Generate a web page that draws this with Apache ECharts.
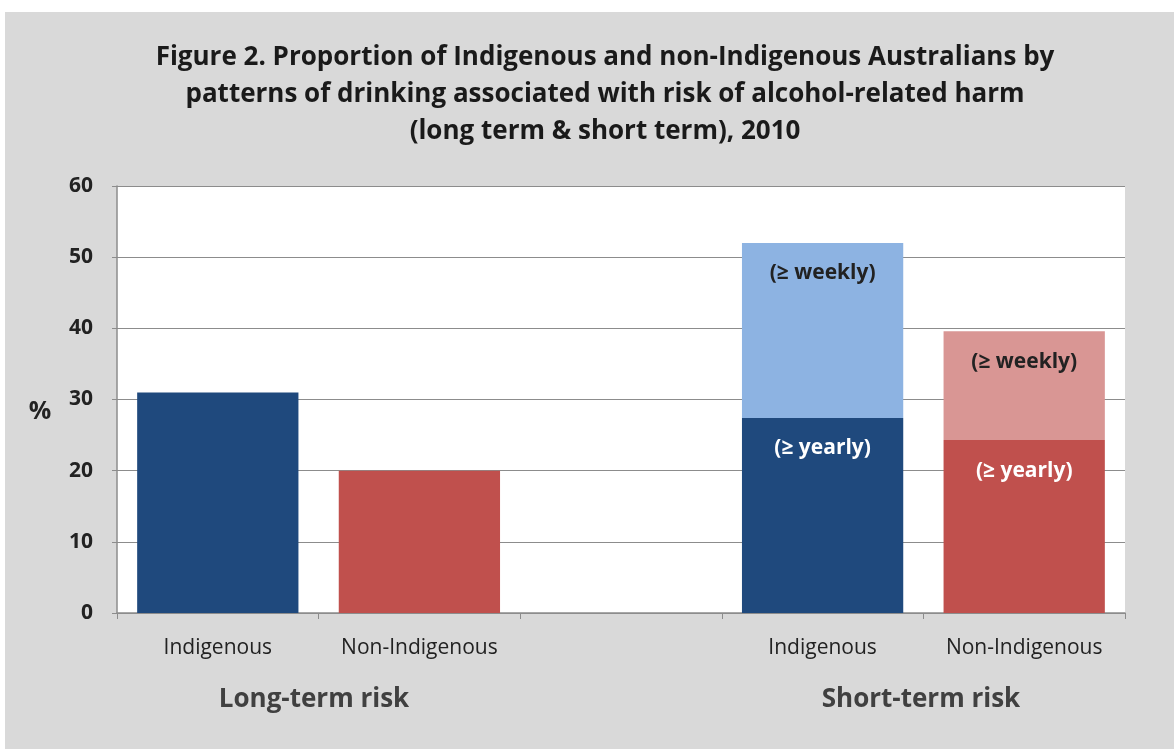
<!DOCTYPE html>
<html>
<head>
<meta charset="utf-8" />
<script src="https://cdn.jsdelivr.net/npm/echarts@6/dist/echarts.min.js"></script>
<style>
  html, body { margin: 0; padding: 0; background: #fff; }
  #main { width: 1174px; height: 749px; }
</style>
</head>
<body>
<div id="main"></div>
<script>
// slots along the x axis: 2 long-term bars, a gap, 2 short-term bars
var categories = ['Indigenous', 'Non-Indigenous', '', 'Indigenous', 'Non-Indigenous'];
var longTerm = [31, 20];            // Indigenous, Non-Indigenous
var shortYearly = [27.4, 24.3];     // (>= yearly) part
var shortWeeklyTop = [52, 39.6];    // top of the stacked bar (>= weekly)
var groupNames = ['Long-term risk', 'Short-term risk'];
var yTicks = [0, 10, 20, 30, 40, 50, 60];

var darkColors = ['#1f497d', '#c0504d'];
var lightColors = ['#8db3e2', '#d99694'];

var font = "'Open Sans', 'DejaVu Sans', sans-serif";

// build series data from the arrays
var bottomData = [];
var topData = [];
for (var i = 0; i < 2; i++) {
  bottomData.push({ value: longTerm[i], itemStyle: { color: darkColors[i] }, label: { show: false } });
}
bottomData.push('-');
for (var i = 0; i < 2; i++) {
  bottomData.push({ value: shortYearly[i], itemStyle: { color: darkColors[i] } });
}
topData = ['-', '-', '-'];
for (var i = 0; i < 2; i++) {
  topData.push({ value: +(shortWeeklyTop[i] - shortYearly[i]).toFixed(1), itemStyle: { color: lightColors[i] } });
}

var chart = echarts.init(document.getElementById('main'));
chart.setOption({
  backgroundColor: '#fff',
  animation: false,
  graphic: [
    { type: 'rect', z: -10, shape: { x: 5, y: 12, width: 1169, height: 737 }, style: { fill: '#d9d9d9' } },
    { type: 'text', x: 40, y: 412, style: { text: '%', font: 'bold 25px ' + font, fill: '#222', align: 'center', verticalAlign: 'middle' } },
    { type: 'text', x: 314, y: 700, style: { text: groupNames[0], font: 'bold 26px ' + font, fill: '#404040', align: 'center', verticalAlign: 'middle' } },
    { type: 'text', x: 921, y: 700, style: { text: groupNames[1], font: 'bold 26px ' + font, fill: '#404040', align: 'center', verticalAlign: 'middle' } }
  ],
  title: {
    text: 'Figure 2. Proportion of Indigenous and non-Indigenous Australians by\npatterns of drinking associated with risk of alcohol-related harm\n(long term & short term), 2010',
    left: 600,
    top: 34,
    textAlign: 'center',
    textStyle: { fontFamily: font, fontWeight: 'bold', fontSize: 26, lineHeight: 37, color: '#1a1a1a' }
  },
  grid: { left: 117, right: 49, top: 186, bottom: 136, show: true, backgroundColor: '#fff', borderWidth: 0 },
  xAxis: {
    type: 'category',
    data: categories,
    axisLine: { lineStyle: { color: '#8c8c8c', width: 1.5 } },
    axisTick: { show: true, interval: 0, length: 6, lineStyle: { color: '#8c8c8c' } },
    axisLabel: { interval: 0, margin: 25, fontFamily: font, fontSize: 21, color: '#222' }
  },
  yAxis: {
    type: 'value',
    min: 0, max: 60, interval: 10,
    axisLine: { show: true, lineStyle: { color: '#8c8c8c', width: 1.5 } },
    axisTick: { show: true, length: 5, lineStyle: { color: '#8c8c8c' } },
    axisLabel: { margin: 24, fontFamily: font, fontWeight: 'bold', fontSize: 21, color: '#222',
      formatter: function (v) { return yTicks.indexOf(v) >= 0 ? String(v) : ''; } },
    splitLine: { lineStyle: { color: '#8c8c8c', width: 1.2 } }
  },
  series: [
    {
      type: 'bar', stack: 'risk', barWidth: '80%', data: bottomData,
      label: { show: true, position: 'insideTop', distance: 20, formatter: '(≥ yearly)',
        fontFamily: font, fontWeight: 'bold', fontSize: 21, color: '#fff' }
    },
    {
      type: 'bar', stack: 'risk', barWidth: '80%', data: topData,
      label: { show: true, position: 'insideTop', distance: 20, formatter: '(≥ weekly)',
        fontFamily: font, fontWeight: 'bold', fontSize: 21, color: '#222' }
    }
  ]
});
</script>
</body>
</html>
